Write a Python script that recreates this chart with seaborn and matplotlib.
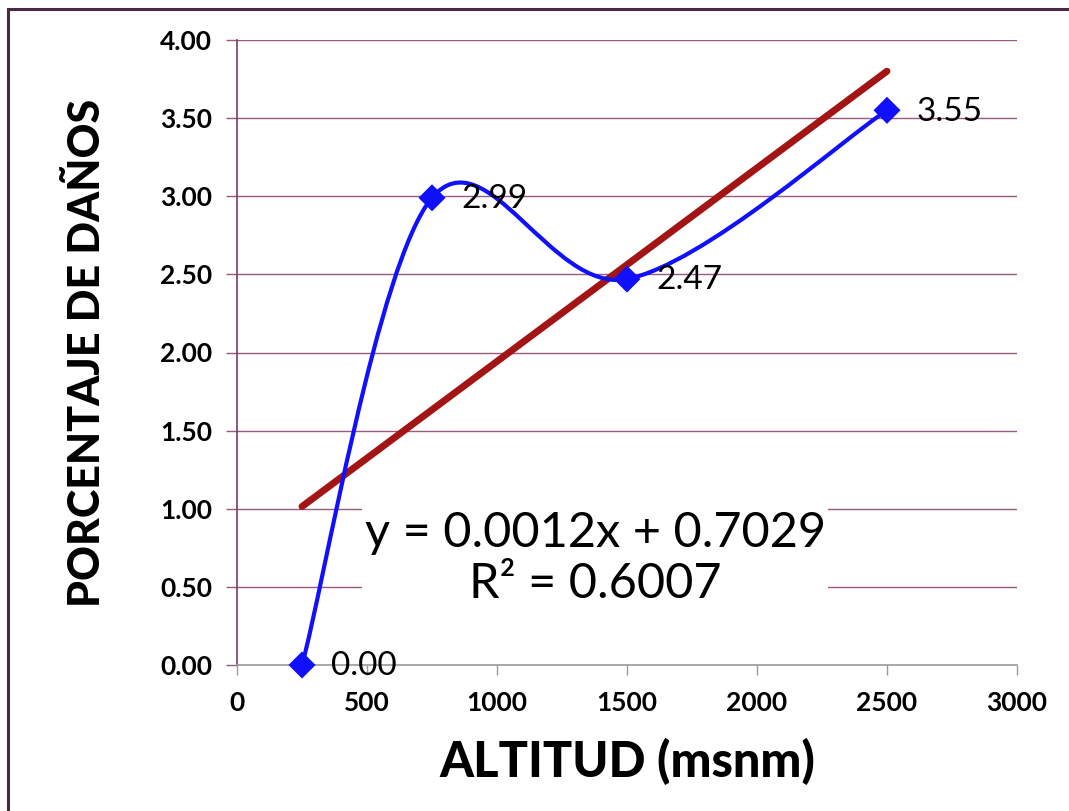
import numpy as np
import pandas as pd
import matplotlib
matplotlib.use("Agg")
import matplotlib.pyplot as plt
from matplotlib.path import Path
from matplotlib.patches import PathPatch, Rectangle
import seaborn as sns

# ---- data ----
altitud = [250, 750, 1500, 2500]
porcentaje = [0.00, 2.99, 2.47, 3.55]
etiquetas = ["0.00", "2.99", "2.47", "3.55"]
x_ticks = [0, 500, 1000, 1500, 2000, 2500, 3000]
y_ticks = [0.0, 0.5, 1.0, 1.5, 2.0, 2.5, 3.0, 3.5, 4.0]
ecuacion = "y = 0.0012x + 0.7029"
r2_texto = "R\u00b2 = 0.6007"

df = pd.DataFrame({"altitud": altitud, "porcentaje": porcentaje})

sns.set_theme(style="white")
plt.rcParams["font.family"] = ["Lato", "DejaVu Sans"]
plt.rcParams["text.color"] = "black"
plt.rcParams["axes.labelcolor"] = "black"
plt.rcParams["xtick.color"] = "black"
plt.rcParams["ytick.color"] = "black"

fig = plt.figure(figsize=(10.69, 8.11), dpi=100)
ax = fig.add_axes([237 / 1069, 146 / 811, 780 / 1069, 625 / 811])

# figure frame (top & left visible)
fig.patches.append(Rectangle((8 / 1069, -0.1), 1.2, (811 - 9) / 811 + 0.1,
                             transform=fig.transFigure, fill=False,
                             edgecolor="#4a2a40", linewidth=2.2, zorder=0))

grid_c = "#9a5a7e"
for yv in y_ticks[1:]:
    ax.axhline(yv, color=grid_c, linewidth=1.0, zorder=1)

# trend line (linear regression)
sns.regplot(data=df, x="altitud", y="porcentaje", ax=ax, ci=None,
            scatter=False, truncate=True,
            line_kws=dict(color="#a31515", linewidth=5.0,
                          solid_capstyle="round", zorder=3))

# smoothed series line (Catmull-Rom style bezier as Excel "smoothed line")
pts = np.column_stack([altitud, porcentaje]).astype(float)
ext = np.vstack([pts[0], pts, pts[-1]])
verts = [tuple(pts[0])]
codes = [Path.MOVETO]
for i in range(len(pts) - 1):
    p0, p1, p2, p3 = ext[i], ext[i + 1], ext[i + 2], ext[i + 3]
    c1 = p1 + (p2 - p0) / 6.0
    c2 = p2 - (p3 - p1) / 6.0
    verts += [tuple(c1), tuple(c2), tuple(p2)]
    codes += [Path.CURVE4] * 3
ax.add_patch(PathPatch(Path(verts, codes), facecolor="none",
                       edgecolor="#1010ff", linewidth=3.0, zorder=4,
                       clip_on=False))

sns.scatterplot(data=df, x="altitud", y="porcentaje", ax=ax, marker="D",
                s=190, color="#1010ff", edgecolor="none", zorder=5,
                legend=False, clip_on=False)

for xv, yv, lab in zip(altitud, porcentaje, etiquetas):
    ax.annotate(lab, (xv, yv), xytext=(21, -1), textcoords="offset points",
                ha="left", va="center", fontsize=24, color="black", zorder=6)

ax.text(1377, 0.68, ecuacion + "\n" + r2_texto, ha="center", va="center",
        fontsize=35, color="black", linespacing=1.2, zorder=7,
        bbox=dict(facecolor="white", edgecolor="none", pad=2))

ax.set_xlim(0, 3000)
ax.set_ylim(0, 4.0)
ax.set_xticks(x_ticks)
ax.set_yticks(y_ticks)
ax.set_xticklabels([str(v) for v in x_ticks], fontsize=19, fontweight="bold")
ax.set_yticklabels([f"{v:.2f}" for v in y_ticks], fontsize=19, fontweight="bold")

for s in ["top", "right"]:
    ax.spines[s].set_visible(False)
ax.spines["left"].set_color("#7a3a68")
ax.spines["left"].set_linewidth(1.2)
ax.spines["bottom"].set_color("#9a9a9a")
ax.spines["bottom"].set_linewidth(1.2)
ax.tick_params(axis="y", direction="out", length=8, color="#9a5a7e",
               width=1.0, pad=10, left=True)
ax.tick_params(axis="x", direction="out", length=7, color="#9a9a9a",
               width=1.0, pad=12, bottom=True)

ax.set_xlabel("ALTITUD (msnm)", fontsize=35, fontweight="black", labelpad=16)
ax.set_ylabel("PORCENTAJE DE DA\u00d1OS", fontsize=31, fontweight="black",
              labelpad=38)
ax.set_facecolor("white")

fig.savefig("out.png", dpi=100, facecolor="white")
